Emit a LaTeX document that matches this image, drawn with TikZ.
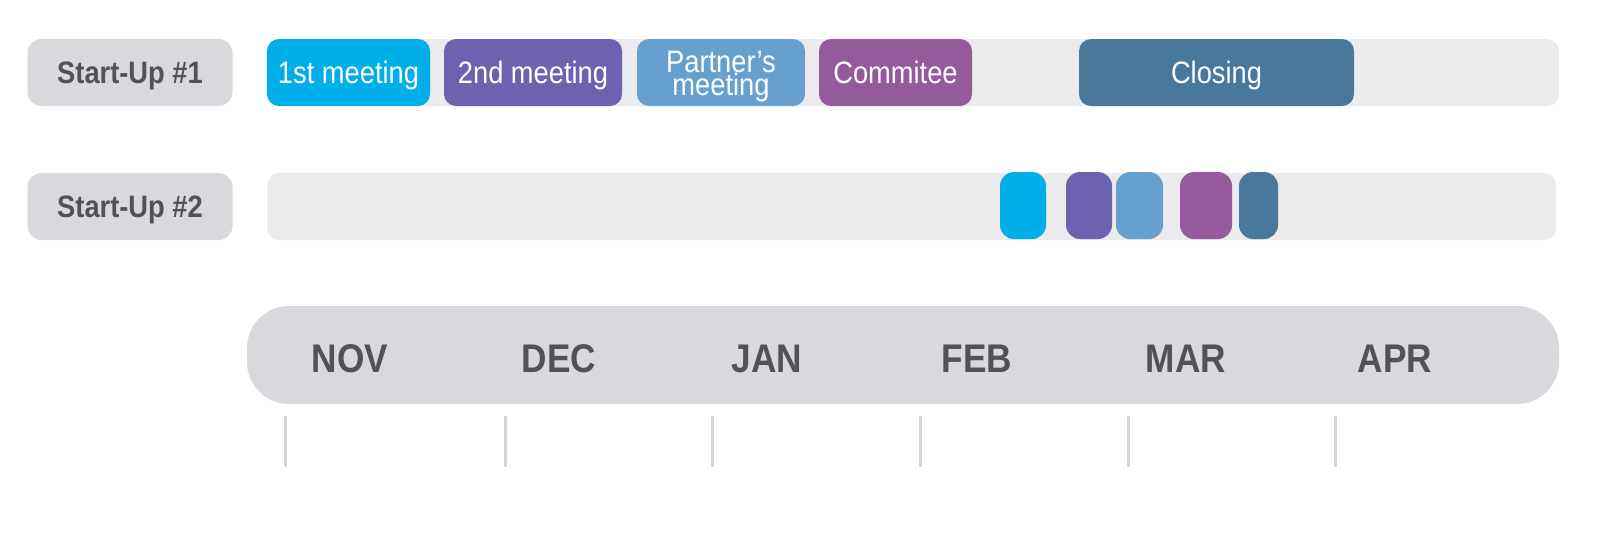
\documentclass[tikz,border=0pt]{standalone}
\usepackage{fontspec}
\setmainfont{Liberation Sans}
\newfontfamily\narrowfont[FakeStretch=0.88]{Liberation Sans}
\usetikzlibrary{calc}
\definecolor{rowgray}{HTML}{EBEBED}
\definecolor{tabgray}{HTML}{DAD8DD}
\definecolor{tickgray}{HTML}{D5D5D8}
\definecolor{inkgray}{HTML}{4F5257}
\definecolor{firstc}{HTML}{00AEEA}
\definecolor{secondc}{HTML}{6E61AF}
\definecolor{partnerc}{HTML}{67A0CF}
\definecolor{commitc}{HTML}{955A9B}
\definecolor{closec}{HTML}{48799D}
\def\evfont{\narrowfont\fontsize{15.5}{11.5}\selectfont}
\def\tabfont{\narrowfont\bfseries\fontsize{15.5}{18}\selectfont}
\def\monfont{\narrowfont\bfseries\fontsize{20}{24}\selectfont}
\tikzset{
  rowbar/.style={fill=rowgray, rounded corners=6pt, minimum height=33.5pt, inner sep=0pt},
  tab/.style={fill=tabgray, rounded corners=7pt, minimum width=102.5pt, minimum height=33.5pt, inner sep=0pt, text=inkgray, font=\tabfont, text height=11.2pt, text depth=0pt},
  event/.style={fill=#1, rounded corners=6pt, minimum height=33.5pt, inner sep=0pt, text=white, font=\evfont, align=center, text height=11.2pt, text depth=0pt},
  dot/.style={fill=#1, rounded corners=7pt, minimum height=33.5pt, inner sep=0pt},
  month/.style={text=inkgray, font=\monfont, inner sep=0pt, text height=14.4pt, text depth=0pt},
  tick/.style={draw=tickgray, line width=1.5pt}
}

\begin{document}
\begin{tikzpicture}[x=0.5pt, y=-0.5pt]
		%%%%% START %%%%%
		\useasboundingbox (0, 0) rectangle (1600, 542);
		
		% start-up rows
		\node[tab] (su1) at (130, 72.5) {Start-Up \#1};
		\node[rowbar, minimum width=646pt] (bar1) at (913, 72.5) {};
		\node[tab] (su2) at (130, 206.5) {Start-Up \#2};
		\node[rowbar, minimum width=644.5pt] (bar2) at (911.5, 206.5) {};
		
		% start-up #1 events
		\node[event=firstc, minimum width=81.5pt] (meet1) at (348.5, 72.5) {1st meeting};
		\node[event=secondc, minimum width=89pt] (meet2) at (533, 72.5) {2nd meeting};
		\node[event=partnerc, minimum width=84pt] (partner) at (721, 72.5) {};
		\node[text=white, font=\evfont, align=center, inner sep=0pt] (partnertxt) at (721, 77) {Partner’s\\meeting};
		\node[event=commitc, minimum width=76.5pt] (commit) at (895.5, 72.5) {Commitee};
		\node[event=closec, minimum width=137.5pt] (close) at (1216.5, 72.5) {Closing};
		
		% start-up #2 events
		\node[dot=firstc, minimum width=23pt] (meet1b) at (1023, 205.5) {};
		\node[dot=secondc, minimum width=23pt] (meet2b) at (1089, 205.5) {};
		\node[dot=partnerc, minimum width=23.5pt] (partnerb) at (1139.5, 205.5) {};
		\node[dot=commitc, minimum width=26pt] (commitb) at (1206, 205.5) {};
		\node[dot=closec, minimum width=19.5pt] (closeb) at (1258.5, 205.5) {};
		
		% month scale
		\fill[tabgray, rounded corners=21pt] (247, 306) rectangle (1559, 404);
		\node[month] (nov) at (350, 358) {NOV};
		\node[month] (dec) at (559, 358) {DEC};
		\node[month] (jan) at (767, 358) {JAN};
		\node[month] (feb) at (977, 358) {FEB};
		\node[month] (mar) at (1186, 358) {MAR};
		\node[month] (apr) at (1395, 358) {APR};
		
		\draw[tick] (285, 416) -- (285, 467);
		\draw[tick] (505, 416) -- (505, 467);
		\draw[tick] (712, 416) -- (712, 467);
		\draw[tick] (920, 416) -- (920, 467);
		\draw[tick] (1128, 416) -- (1128, 467);
		\draw[tick] (1335, 416) -- (1335, 467);
		
		%%%%% END %%%%%
	\end{tikzpicture}
\end{document}
